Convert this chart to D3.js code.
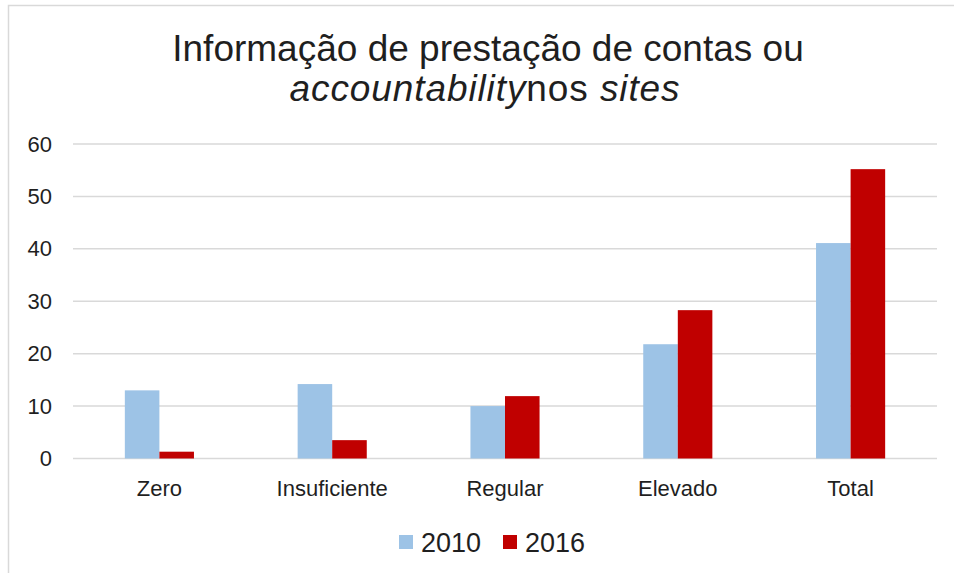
<!DOCTYPE html>
<html><head><meta charset="utf-8">
<script src="https://cdn.jsdelivr.net/npm/d3@7"></script>
<style>body{margin:0;background:#fff}svg{display:block}text{font-family:"Liberation Sans",Arial,sans-serif;fill:#1f1f1f}</style>
</head><body>
<script>
const categories = ["Zero","Insuficiente","Regular","Elevado","Total"];
const series2010 = [13.0,14.2,10.0,21.8,41.1];
const series2016 = [1.3,3.5,11.9,28.3,55.2];
const seriesNames = ["2010","2016"];
const colors = ["#9DC3E6","#C00000"];
const yTicks = [0,10,20,30,40,50,60];

const W=954,H=573;
const svg=d3.select("body").append("svg").attr("width",W).attr("height",H);
// outer frame
svg.append("rect").attr("x",8.5).attr("y",5.5).attr("width",W).attr("height",H).attr("fill","none").attr("stroke","#d9d9d9").attr("stroke-width",1.5);

const m={l:73,r:937,t:144,b:458.5};
const x=d3.scaleBand().domain(categories).range([m.l,m.r]).padding(0);
const y=d3.scaleLinear().domain([0,60]).range([m.b,m.t]);
const sub=d3.scaleBand().domain(seriesNames).range([0,x.bandwidth()*0.4]);
const off=x.bandwidth()*0.3;

// gridlines
svg.append("g").selectAll("line").data(yTicks).join("line")
 .attr("x1",m.l).attr("x2",m.r).attr("y1",d=>y(d)).attr("y2",d=>y(d))
 .attr("stroke","#d9d9d9").attr("stroke-width",1.5);

// y axis labels
const ya=svg.append("g").attr("transform",`translate(${m.l},0)`)
 .call(d3.axisLeft(y).tickValues(yTicks).tickSize(0).tickPadding(21));
ya.select(".domain").remove();
ya.selectAll("text").attr("font-size",22).attr("font-family","Liberation Sans, Arial, sans-serif").attr("fill","#1f1f1f");

// bars
const data=categories.map((c,i)=>({c,vals:[series2010[i],series2016[i]]}));
const g=svg.append("g");
data.forEach(d=>{
  d.vals.forEach((v,j)=>{
    g.append("rect").attr("x",x(d.c)+off+sub(seriesNames[j])).attr("width",sub.bandwidth())
     .attr("y",y(v)).attr("height",y(0)-y(v)).attr("fill",colors[j]);
  });
});

// x axis labels
const xa=svg.append("g").attr("transform",`translate(0,${m.b})`)
 .call(d3.axisBottom(x).tickSize(0).tickPadding(22));
xa.select(".domain").remove();
xa.selectAll("text").attr("font-size",22).attr("font-family","Liberation Sans, Arial, sans-serif").attr("fill","#1f1f1f");

// title
const t1=svg.append("text").attr("x",488).attr("y",61).attr("text-anchor","middle").attr("font-size",37)
 .text("Informação de prestação de contas ou");
const t2=svg.append("text").attr("x",485).attr("y",101).attr("text-anchor","middle").attr("font-size",37)
 .attr("letter-spacing",0.9);
t2.append("tspan").attr("font-style","italic").text("accountability");
t2.append("tspan").text("nos ");
t2.append("tspan").attr("font-style","italic").text("sites");

// legend
const leg=svg.append("g");
const lx=[399,503];
seriesNames.forEach((s,i)=>{
  leg.append("rect").attr("x",lx[i]).attr("y",535).attr("width",14).attr("height",14).attr("fill",colors[i]);
  leg.append("text").attr("x",lx[i]+22).attr("y",552).attr("font-size",27).text(s);
});
</script>
</body></html>
